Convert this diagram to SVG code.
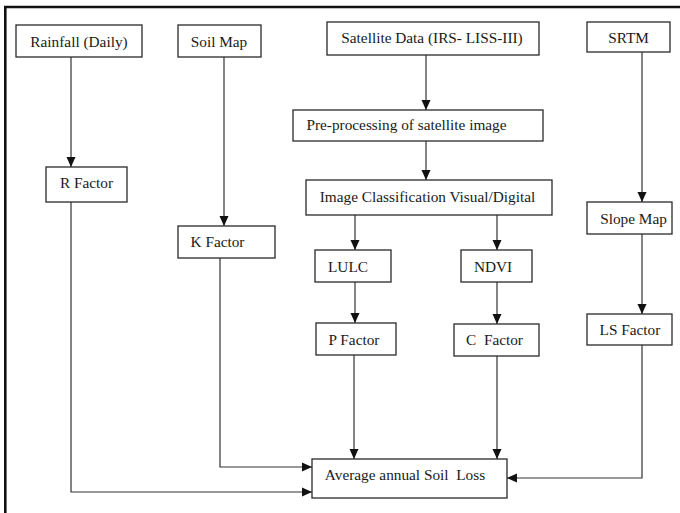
<svg xmlns="http://www.w3.org/2000/svg" width="680" height="513" viewBox="0 0 680 513">
<style>
.box{fill:#fff;stroke:#2a2a2a;stroke-width:1.3}
.t{font-family:"Liberation Serif","Times New Roman",serif;font-size:15.3px;fill:#1a1a1a;text-anchor:middle}
.c{fill:none;stroke:#333;stroke-width:1.2}
.frame{fill:none;stroke:#111;stroke-width:2.6}
</style>
<defs>
<marker id="ah" viewBox="0 0 10 10" refX="10" refY="5" markerWidth="10" markerHeight="10" markerUnits="userSpaceOnUse" orient="auto">
<path d="M0,0.5 L10,5 L0,9.5 z" fill="#111"/>
</marker>
</defs>
<path class="frame" d="M5.3,513 L5.3,7 L680,7"/>
<g id="connectors">
<path class="c" d="M71,57 V167" marker-end="url(#ah)"/>
<path class="c" d="M224,57 V226" marker-end="url(#ah)"/>
<path class="c" d="M426,55 V110" marker-end="url(#ah)"/>
<path class="c" d="M426,141 V180" marker-end="url(#ah)"/>
<path class="c" d="M642,52 V202" marker-end="url(#ah)"/>
<path class="c" d="M355,215 V250" marker-end="url(#ah)"/>
<path class="c" d="M497,215 V250" marker-end="url(#ah)"/>
<path class="c" d="M355,282 V323" marker-end="url(#ah)"/>
<path class="c" d="M497,282 V324" marker-end="url(#ah)"/>
<path class="c" d="M642,234 V314" marker-end="url(#ah)"/>
<path class="c" d="M354,355 V459" marker-end="url(#ah)"/>
<path class="c" d="M497,356 V459" marker-end="url(#ah)"/>
<path class="c" d="M642,345 V478 H507" marker-end="url(#ah)"/>
<path class="c" d="M220,258 V467 H312" marker-end="url(#ah)"/>
<path class="c" d="M71,202 V492 H312" marker-end="url(#ah)"/>
</g>
<g id="rainfall"><rect class="box" x="16" y="25" width="126" height="32"/><text class="t" x="79" y="46.5">Rainfall (Daily)</text></g>
<g id="soilmap"><rect class="box" x="178" y="25" width="83" height="32"/><text class="t" x="219" y="46.5">Soil Map</text></g>
<g id="satellite"><rect class="box" x="327" y="22" width="212" height="33"/><text class="t" x="432" y="43">Satellite Data (IRS- LISS-III)</text></g>
<g id="srtm"><rect class="box" x="587" y="22" width="83" height="30"/><text class="t" x="628.5" y="42.5">SRTM</text></g>
<g id="preprocessing"><rect class="box" x="293" y="110" width="250" height="31"/><text class="t" x="406.5" y="130">Pre-processing of satellite image</text></g>
<g id="rfactor"><rect class="box" x="46" y="167" width="81" height="35"/><text class="t" x="86.5" y="188">R Factor</text></g>
<g id="classification"><rect class="box" x="306" y="180" width="246" height="35"/><text class="t" x="427.5" y="202">Image Classification Visual/Digital</text></g>
<g id="slopemap"><rect class="box" x="587" y="202" width="85" height="32"/><text class="t" x="633.5" y="223.5">Slope Map</text></g>
<g id="kfactor"><rect class="box" x="178" y="226" width="97" height="32"/><text class="t" x="217.5" y="246.5">K Factor</text></g>
<g id="lulc"><rect class="box" x="315" y="250" width="76" height="32"/><text class="t" x="348" y="271.5">LULC</text></g>
<g id="ndvi"><rect class="box" x="461" y="250" width="71" height="32"/><text class="t" x="493" y="271.5">NDVI</text></g>
<g id="lsfactor"><rect class="box" x="587" y="314" width="85" height="31"/><text class="t" x="630" y="335">LS Factor</text></g>
<g id="pfactor"><rect class="box" x="316" y="323" width="80" height="32"/><text class="t" x="354" y="345">P Factor</text></g>
<g id="cfactor"><rect class="box" x="454" y="324" width="85" height="32"/><text class="t" x="494.5" y="345" xml:space="preserve">C  Factor</text></g>
<g id="average"><rect class="box" x="312" y="459" width="195" height="39"/><text class="t" x="405" y="480" xml:space="preserve">Average annual Soil  Loss</text></g>
</svg>
